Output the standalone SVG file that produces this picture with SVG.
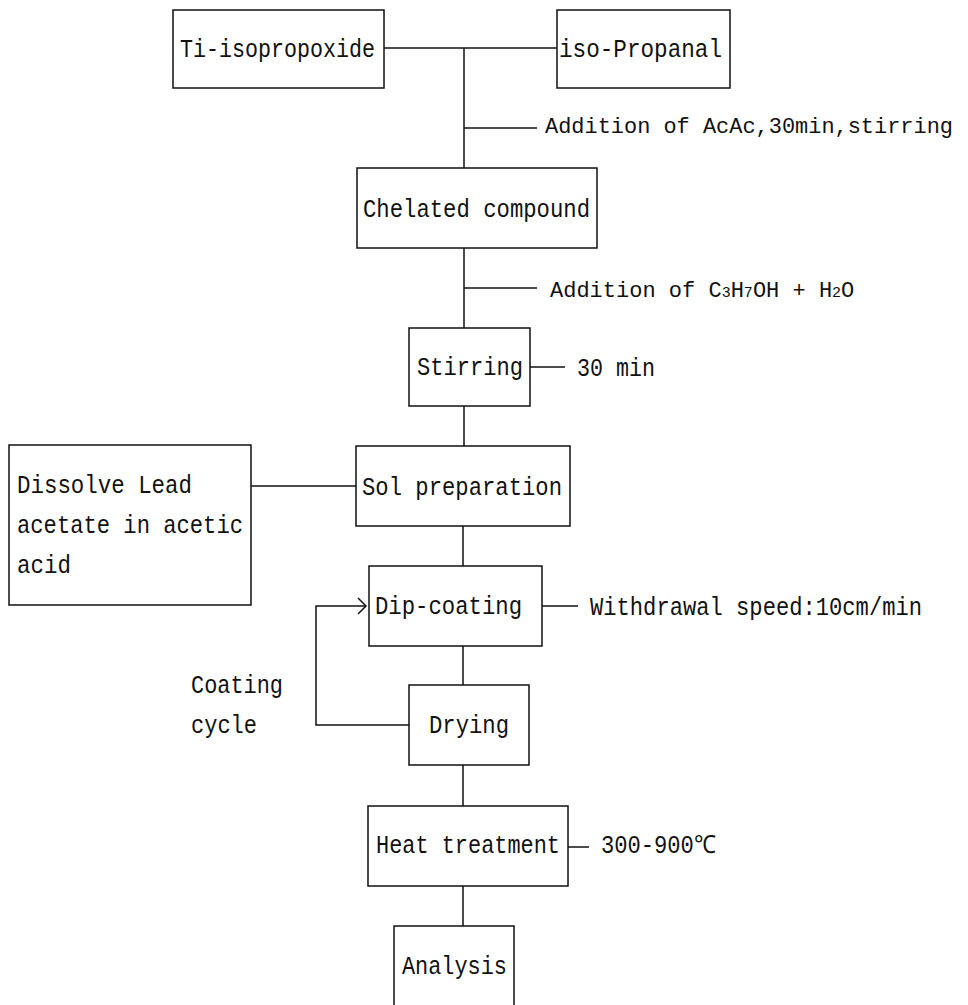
<svg xmlns="http://www.w3.org/2000/svg" width="968" height="1005" viewBox="0 0 968 1005">
<style>
.b{fill:none;stroke:#111;stroke-width:1.5}
.c line,.c path{stroke:#111;stroke-width:1.5;fill:none}
text{font-family:"Liberation Mono","DejaVu Sans Mono",monospace;font-size:25px;fill:#111}
.m{font-size:22px}
.s{font-size:15px}
</style>
<rect width="968" height="1005" fill="#fff"/>
<g class="c" id="connectors">
<line x1="384" y1="48" x2="557" y2="48"/>
<line x1="464" y1="48" x2="464" y2="168"/>
<line x1="464" y1="128" x2="537" y2="128"/>
<line x1="464" y1="248" x2="464" y2="328"/>
<line x1="464" y1="288" x2="537" y2="288"/>
<line x1="530" y1="367" x2="565" y2="367"/>
<line x1="464" y1="406" x2="464" y2="446"/>
<line x1="251" y1="486" x2="356" y2="486"/>
<line x1="463" y1="526" x2="463" y2="566"/>
<line x1="542" y1="606" x2="578" y2="606"/>
<line x1="463" y1="646" x2="463" y2="685"/>
<path d="M409 725 H316 V606 H366"/>
<path d="M358 598 L366 606 L358 614"/>
<line x1="463" y1="765" x2="463" y2="806"/>
<line x1="568" y1="847" x2="589" y2="847"/>
<line x1="463" y1="886" x2="463" y2="926"/>
</g>
<g id="n-ti"><rect class="b" x="173" y="10" width="211" height="78"/><text x="180" y="57" textLength="195" lengthAdjust="spacingAndGlyphs">Ti-isopropoxide</text></g>
<g id="n-iso"><rect class="b" x="557" y="10" width="173" height="78"/><text x="559" y="57" textLength="163" lengthAdjust="spacingAndGlyphs">iso-Propanal</text></g>
<g id="l-acac"><text class="m" x="545" y="133" textLength="408" lengthAdjust="spacingAndGlyphs">Addition of AcAc,30min,stirring</text></g>
<g id="n-chel"><rect class="b" x="357" y="168" width="240" height="80"/><text x="363" y="217" textLength="227" lengthAdjust="spacingAndGlyphs">Chelated compound</text></g>
<g id="l-c3"><text class="m" x="550" y="297">Addition of C<tspan class="s">3</tspan>H<tspan class="s">7</tspan>OH + H<tspan class="s">2</tspan>O</text></g>
<g id="n-stir"><rect class="b" x="409" y="328" width="121" height="78"/><text x="417" y="375" textLength="106" lengthAdjust="spacingAndGlyphs">Stirring</text></g>
<g id="l-30"><text x="577" y="376" textLength="78" lengthAdjust="spacingAndGlyphs">30 min</text></g>
<g id="n-sol"><rect class="b" x="356" y="446" width="214" height="80"/><text x="362" y="495" textLength="200" lengthAdjust="spacingAndGlyphs">Sol preparation</text></g>
<g id="n-lead"><rect class="b" x="9" y="445" width="242" height="160"/>
<text x="17" y="493" textLength="175" lengthAdjust="spacingAndGlyphs">Dissolve Lead</text>
<text x="17" y="533" textLength="226" lengthAdjust="spacingAndGlyphs">acetate in acetic</text>
<text x="17" y="573" textLength="54" lengthAdjust="spacingAndGlyphs">acid</text></g>
<g id="n-dip"><rect class="b" x="369" y="566" width="173" height="80"/><text x="375" y="614" textLength="147" lengthAdjust="spacingAndGlyphs">Dip-coating</text></g>
<g id="l-wd"><text x="590" y="615" textLength="332" lengthAdjust="spacingAndGlyphs">Withdrawal speed:10cm/min</text></g>
<g id="l-cycle"><text x="191" y="693" textLength="92" lengthAdjust="spacingAndGlyphs">Coating</text><text x="191" y="733" textLength="66" lengthAdjust="spacingAndGlyphs">cycle</text></g>
<g id="n-dry"><rect class="b" x="409" y="685" width="120" height="80"/><text x="429" y="733" textLength="80" lengthAdjust="spacingAndGlyphs">Drying</text></g>
<g id="n-heat"><rect class="b" x="368" y="806" width="200" height="80"/><text x="376" y="853" textLength="184" lengthAdjust="spacingAndGlyphs">Heat treatment</text></g>
<g id="l-temp"><text x="601" y="853" textLength="115" lengthAdjust="spacingAndGlyphs">300-900℃</text></g>
<g id="n-ana"><rect class="b" x="394" y="926" width="120" height="84"/><text x="402" y="974" textLength="105" lengthAdjust="spacingAndGlyphs">Analysis</text></g>
</svg>
